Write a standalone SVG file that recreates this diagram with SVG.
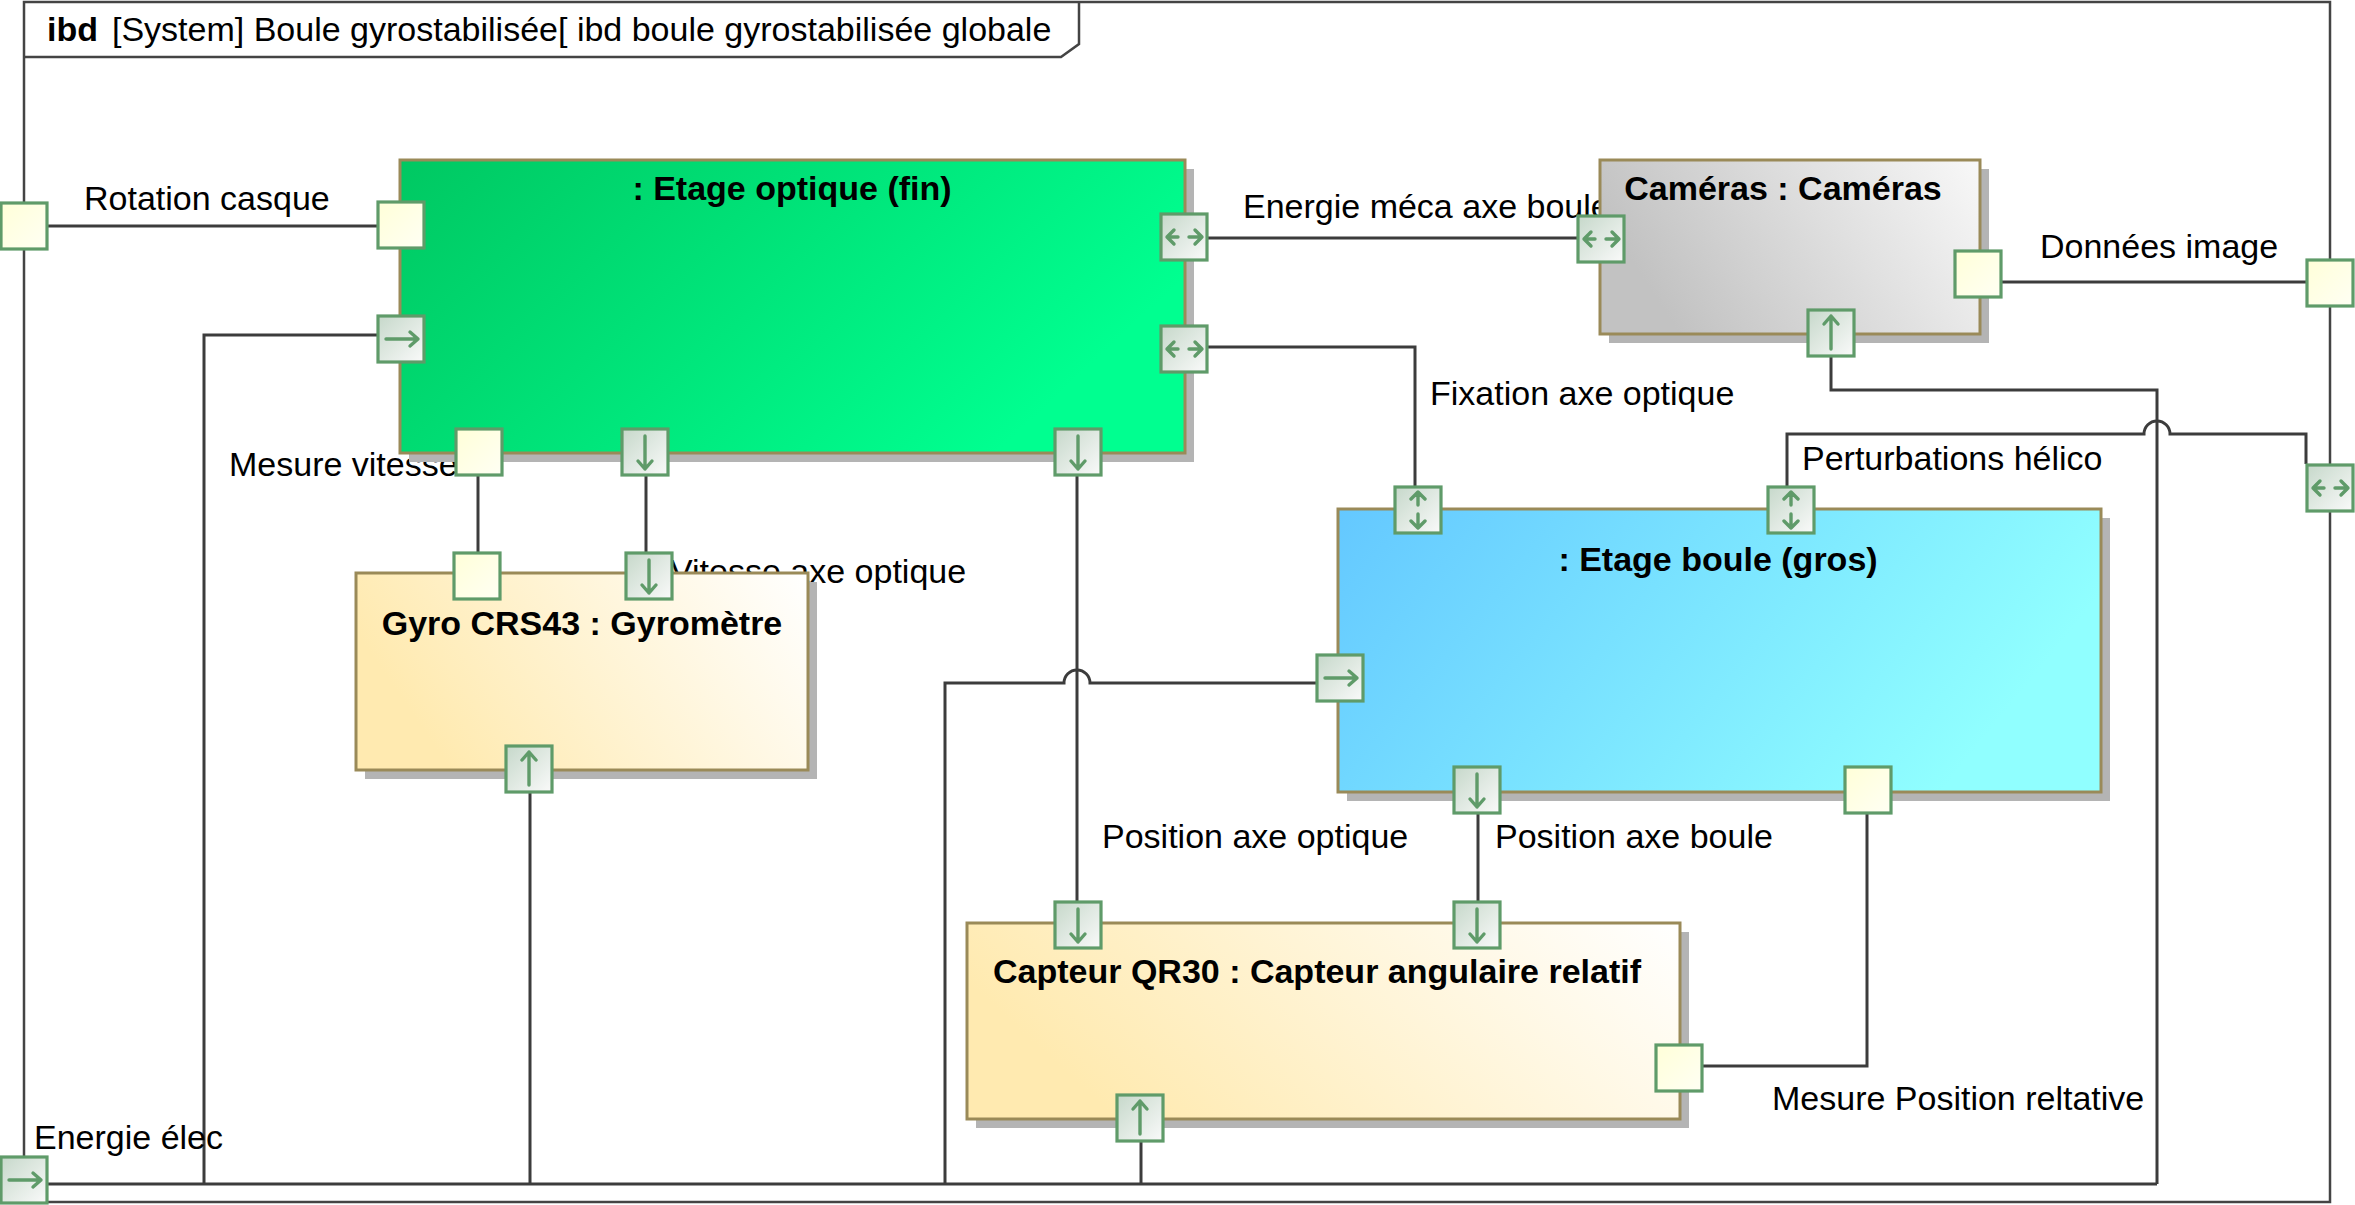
<svg xmlns="http://www.w3.org/2000/svg" xmlns:xlink="http://www.w3.org/1999/xlink" width="2355" height="1205" viewBox="0 0 2355 1205">
<style>
.frame{fill:none;stroke:#444444;stroke-width:2.5}
.conn{fill:none;stroke:#3c3c3c;stroke-width:3}
.lbl{font-family:"Liberation Sans",Arial,sans-serif;font-size:34px;fill:#000}
.title{font-family:"Liberation Sans",Arial,sans-serif;font-size:34px;font-weight:bold;fill:#000;text-anchor:middle}
.box{stroke:#9a8a58;stroke-width:3}
.shadow{fill:#b4b4b4}
.port{stroke:#5f9b69;stroke-width:3.2}
.glyph{fill:none;stroke:#5f9b69;stroke-width:3.4;stroke-linecap:round;stroke-linejoin:round}
</style>
<defs>
<linearGradient id="gGreen" x1="0" y1="0" x2="1" y2="0.4"><stop offset="0" stop-color="#00c862"/><stop offset="1" stop-color="#00ff90"/></linearGradient>
<linearGradient id="gGray" x1="0" y1="0.3" x2="1" y2="0"><stop offset="0" stop-color="#c2c2c2"/><stop offset="1" stop-color="#f8f8f8"/></linearGradient>
<linearGradient id="gBlue" x1="0" y1="0" x2="1" y2="0.3"><stop offset="0" stop-color="#64c8ff"/><stop offset="1" stop-color="#90ffff"/></linearGradient>
<linearGradient id="gYellow" x1="0" y1="0.3" x2="1" y2="0"><stop offset="0" stop-color="#ffeab0"/><stop offset="1" stop-color="#ffffff"/></linearGradient>
<linearGradient id="gPlain" x1="0" y1="0" x2="1" y2="1"><stop offset="0" stop-color="#ffffd8"/><stop offset="1" stop-color="#fffff4"/></linearGradient>
<linearGradient id="gArrow" x1="0" y1="0" x2="1" y2="1"><stop offset="0" stop-color="#c6d8ca"/><stop offset="1" stop-color="#fafafa"/></linearGradient>
<g id="p-plain"><rect x="-23" y="-23" width="46" height="46" class="port" fill="url(#gPlain)"/></g>
<g id="p-right"><rect x="-23" y="-23" width="46" height="46" class="port" fill="url(#gArrow)"/><path class="glyph" d="M-15,0 H17 M9,-7 L17,0 L9,7"/></g>
<g id="p-down"><rect x="-23" y="-23" width="46" height="46" class="port" fill="url(#gArrow)"/><path class="glyph" d="M0,-16 V17 M-7,9 L0,17 L7,9"/></g>
<g id="p-up"><rect x="-23" y="-23" width="46" height="46" class="port" fill="url(#gArrow)"/><path class="glyph" d="M0,16 V-17 M-7,-9 L0,-17 L7,-9"/></g>
<g id="p-inout"><rect x="-23" y="-23" width="46" height="46" class="port" fill="url(#gArrow)"/><path class="glyph" d="M-6,0 H-17 M-10,-7 L-17,0 L-10,7 M5,0 H18 M11,-7 L18,0 L11,7"/></g>
<g id="p-updown"><rect x="-23" y="-23" width="46" height="46" class="port" fill="url(#gArrow)"/><path class="glyph" d="M0,-5 V-18 M-7,-11 L0,-18 L7,-11 M0,4 V18 M-7,11 L0,18 L7,11"/></g>
</defs>
<rect width="2355" height="1205" fill="#ffffff"/>
<g id="frame">
<rect class="frame" x="24" y="2" width="2306" height="1200"/>
<path class="frame" d="M24,57 H1061 L1079,44 V2"/>
<text class="lbl" x="47" y="41" font-weight="bold">ibd</text>
<text class="lbl" x="112" y="41">[System] Boule gyrostabilisée[ ibd boule gyrostabilisée globale</text>
</g>
<g id="connectors">
<path class="conn" d="M48,226 H377"/>
<path class="conn" d="M1208,238 H1577"/>
<path class="conn" d="M1208,347 H1415 V486"/>
<path class="conn" d="M2002,282 H2306"/>
<path class="conn" d="M1831,357 V390 H2157 V1184"/>
<path class="conn" d="M1787,486 V434 H2144 A13,13 0 0 1 2170,434 H2306 V464"/>
<path class="conn" d="M478,476 V552"/>
<path class="conn" d="M646,476 V552"/>
<path class="conn" d="M1077,476 V901"/>
<path class="conn" d="M1478,814 V901"/>
<path class="conn" d="M1703,1066 H1867 V814"/>
<path class="conn" d="M48,1184 H2157"/>
<path class="conn" d="M204,1184 V335 H377"/>
<path class="conn" d="M530,1184 V793"/>
<path class="conn" d="M945,1184 V683 H1064 A13,13 0 0 1 1090,683 H1316"/>
<path class="conn" d="M1141,1184 V1142"/>
<text class="lbl" x="84" y="210">Rotation casque</text>
<text class="lbl" x="1243" y="218">Energie méca axe boule</text>
<text class="lbl" x="2040" y="258">Données image</text>
<text class="lbl" x="1430" y="405">Fixation axe optique</text>
<text class="lbl" x="1802" y="470">Perturbations hélico</text>
<text class="lbl" x="229" y="476">Mesure vitesse</text>
<text class="lbl" x="670" y="583">Vitesse axe optique</text>
<text class="lbl" x="1102" y="848">Position axe optique</text>
<text class="lbl" x="1495" y="848">Position axe boule</text>
<text class="lbl" x="1772" y="1110">Mesure Position reltative</text>
<text class="lbl" x="34" y="1149">Energie élec</text>
</g>
<g id="etage-optique">
<rect class="shadow" x="409" y="169" width="785" height="293"/>
<rect class="box" x="400" y="160" width="785" height="293" fill="url(#gGreen)"/>
<text class="title" x="792" y="200">: Etage optique (fin)</text>
<use href="#p-plain" x="401" y="225"/>
<use href="#p-right" x="401" y="339"/>
<use href="#p-inout" x="1184" y="237"/>
<use href="#p-inout" x="1184" y="349"/>
<use href="#p-plain" x="479" y="452"/>
<use href="#p-down" x="645" y="452"/>
<use href="#p-down" x="1078" y="452"/>
</g>
<g id="cameras">
<rect class="shadow" x="1609" y="169" width="380" height="174"/>
<rect class="box" x="1600" y="160" width="380" height="174" fill="url(#gGray)"/>
<text class="title" x="1783" y="200">Caméras : Caméras</text>
<use href="#p-inout" x="1601" y="239"/>
<use href="#p-plain" x="1978" y="274"/>
<use href="#p-up" x="1831" y="333"/>
</g>
<g id="etage-boule">
<rect class="shadow" x="1347" y="518" width="763" height="283"/>
<rect class="box" x="1338" y="509" width="763" height="283" fill="url(#gBlue)"/>
<text class="title" x="1718" y="571">: Etage boule (gros)</text>
<use href="#p-updown" x="1418" y="510"/>
<use href="#p-updown" x="1791" y="510"/>
<use href="#p-right" x="1340" y="678"/>
<use href="#p-down" x="1477" y="790"/>
<use href="#p-plain" x="1868" y="790"/>
</g>
<g id="gyro">
<rect class="shadow" x="365" y="582" width="452" height="197"/>
<rect class="box" x="356" y="573" width="452" height="197" fill="url(#gYellow)"/>
<text class="title" x="582" y="635">Gyro CRS43 : Gyromètre</text>
<use href="#p-plain" x="477" y="576"/>
<use href="#p-down" x="649" y="576"/>
<use href="#p-up" x="529" y="769"/>
</g>
<g id="capteur">
<rect class="shadow" x="976" y="932" width="713" height="196"/>
<rect class="box" x="967" y="923" width="713" height="196" fill="url(#gYellow)"/>
<text class="title" x="1317" y="983">Capteur QR30 : Capteur angulaire relatif</text>
<use href="#p-down" x="1078" y="925"/>
<use href="#p-down" x="1477" y="925"/>
<use href="#p-plain" x="1679" y="1068"/>
<use href="#p-up" x="1140" y="1118"/>
</g>
<g id="frame-ports">
<use href="#p-plain" x="24" y="226"/>
<use href="#p-plain" x="2330" y="283"/>
<use href="#p-inout" x="2330" y="488"/>
<use href="#p-right" x="24" y="1180"/>
</g>
</svg>
